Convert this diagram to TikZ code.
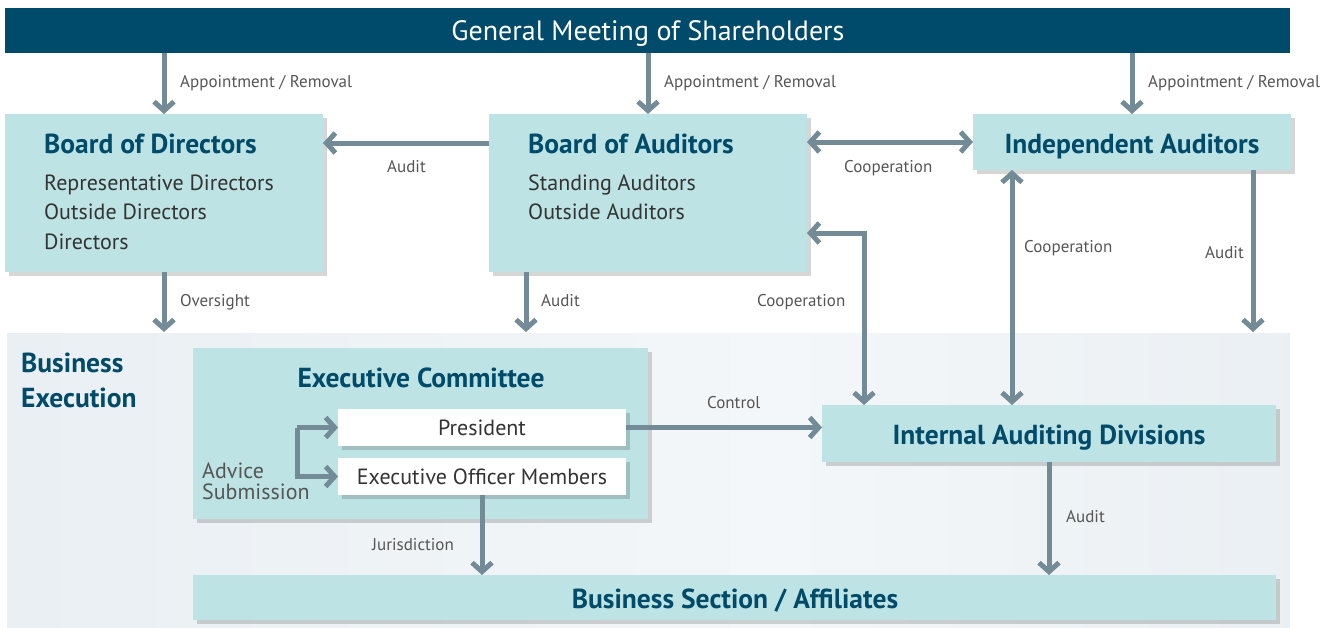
\documentclass[tikz,border=0pt]{standalone}
\usepackage{fontspec}
\setmainfont{PT Sans}
\usetikzlibrary{arrows.meta,shadows,calc}
\definecolor{dark}{HTML}{004B6B}
\definecolor{boxc}{HTML}{BEE3E4}
\definecolor{arrc}{HTML}{738B97}
\definecolor{ttl}{HTML}{004A6A}
\definecolor{bodyc}{HTML}{333333}
\definecolor{lblc}{HTML}{555555}
\definecolor{bgl}{HTML}{E0E8EE}
\definecolor{bgm}{HTML}{F4F7F9}
\definecolor{bgr}{HTML}{DEE6EC}
\pgfdeclarehorizontalshading{bgshade}{100bp}{color(0bp)=(bgl); color(14bp)=(bgl); color(16bp)=(bgl!70!bgm); color(55bp)=(bgm); color(100bp)=(bgr)}
\begin{document}
\begin{tikzpicture}[x=1pt,y=-1pt,
  box/.style={fill=boxc, draw=none, inner sep=0pt, outer sep=0pt, anchor=north west,
    drop shadow={shadow xshift=4pt, shadow yshift=-4pt, fill=black, opacity=0.16}},
  wbox/.style={box, fill=white},
  ttlf/.style={inner sep=0pt, text=ttl, font=\fontsize{27.5}{31}\selectfont\bfseries},
  bodyf/.style={inner sep=0pt, text=bodyc, font=\fontsize{22}{26}\selectfont, anchor=base west},
  lbl/.style={inner sep=0pt, text=lblc, font=\fontsize{17}{20}\selectfont, anchor=base west},
  arr/.style={draw=arrc, line width=5pt, -{Straight Barb[length=9pt,width=20pt,line width=5pt]}},
  darr/.style={draw=arrc, line width=5pt, {Straight Barb[length=9pt,width=20pt,line width=5pt]}-{Straight Barb[length=9pt,width=20pt,line width=5pt]}},
  line/.style={draw=arrc, line width=5pt}
]
\useasboundingbox (0,0) rectangle (1333,627);
% background of business execution
\node[shading=bgshade, draw=none, inner sep=0pt, outer sep=0pt, anchor=north west,
  minimum width=1283pt, minimum height=294pt] (bg) at (7,333) {};
% top bar
\node[fill=dark, inner sep=0pt, outer sep=0pt, anchor=north west, minimum width=1285pt, minimum height=45pt] (gm) at (5,8) {};
\node[inner sep=0pt, text=white, font=\fontsize{28}{32}\selectfont, anchor=base] (gmt) at (648,40) {General Meeting of Shareholders};
% boxes
\node[box, minimum width=318pt, minimum height=158pt] (bod) at (5,114) {};
\node[box, minimum width=318pt, minimum height=158pt] (boa) at (489,114) {};
\node[box, minimum width=318pt, minimum height=56pt] (ia) at (973,114) {};
\node[box, minimum width=455pt, minimum height=171pt] (ec) at (193,348) {};
\node[wbox, minimum width=288pt, minimum height=37pt] (pres) at (338,409) {};
\node[wbox, minimum width=288pt, minimum height=37pt] (eom) at (338,458) {};
\node[box, minimum width=454pt, minimum height=57pt] (iad) at (822,405) {};
\node[box, minimum width=1083pt, minimum height=45pt] (bsa) at (193,575) {};
% texts
\node[ttlf, anchor=base west] (bodt) at (44,153) {Board of Directors};
\node[bodyf] (bod1) at (44,190) {Representative Directors};
\node[bodyf] (bod2) at (44,219) {Outside Directors};
\node[bodyf] (bod3) at (44,249) {Directors};
\node[ttlf, anchor=base west] (boat) at (528,153) {Board of Auditors};
\node[bodyf] (boa1) at (528,190) {Standing Auditors};
\node[bodyf] (boa2) at (528,219) {Outside Auditors};
\node[ttlf, anchor=base] (iat) at (1132,153) {Independent Auditors};
\node[ttlf, anchor=base west] (be1) at (21,372) {Business};
\node[ttlf, anchor=base west] (be2) at (21,407) {Execution};
\node[ttlf, anchor=base] (ect) at (421,387) {Executive Committee};
\node[bodyf, anchor=base] (prest) at (482,435) {President};
\node[bodyf, anchor=base] (eomt) at (482,484) {Executive Officer Members};
\node[ttlf, anchor=base] (iadt) at (1049,444) {Internal Auditing Divisions};
\node[ttlf, anchor=base] (bsat) at (735,608) {Business Section / Affiliates};
\node[bodyf, text=lblc] (adv1) at (202,478) {Advice};
\node[bodyf, text=lblc] (adv2) at (202,499) {Submission};
% labels
\node[lbl] (l1) at (180,87) {Appointment / Removal};
\node[lbl] (l2) at (664,87) {Appointment / Removal};
\node[lbl] (l3) at (1148,87) {Appointment / Removal};
\node[lbl] (l4) at (387,172) {Audit};
\node[lbl] (l5) at (844,172) {Cooperation};
\node[lbl] (l6) at (1024,252) {Cooperation};
\node[lbl] (l7) at (1205,258) {Audit};
\node[lbl] (l8) at (757,306) {Cooperation};
\node[lbl] (l9) at (180,306) {Oversight};
\node[lbl] (l10) at (541,306) {Audit};
\node[lbl] (l11) at (707,408) {Control};
\node[lbl] (l12) at (1066,522) {Audit};
\node[lbl] (l13) at (372,550) {Jurisdiction};
% connectors
\draw[arr] (gm.south -| bod.north) -- (bod.north);
\draw[arr] (gm.south -| boa.north) -- (boa.north);
\draw[arr] (gm.south -| ia.north) -- (ia.north);
\draw[arr] ([yshift=-29pt]boa.north west) -- ([yshift=-29pt]bod.north east);
\draw[darr] (ia.west -| boa.east) -- (ia.west);
\draw[darr] ([xshift=39pt]ia.south west) -- ([xshift=39pt]ia.south west |- iad.north);
\draw[arr] ([xshift=-38pt]ia.south east) -- ([xshift=-38pt,yshift=1pt]ia.south east |- bg.north);
\draw[darr] ([yshift=39pt]boa.south east) -| ([xshift=42pt]iad.north west);
\draw[arr] (bod.south) -- ([yshift=1pt]bod.south |- bg.north);
\draw[arr] ([xshift=37pt]boa.south west) -- ([xshift=37pt,yshift=1pt]boa.south west |- bg.north);
\draw[arr] (pres.east) -- (pres.east -| iad.west);
\draw[arr] ([xshift=-41pt]pres.west) -- (pres.west);
\draw[arr] ([xshift=-41pt]pres.west) |- (eom.west);
\draw[arr] (eom.south) -- (eom.south |- bsa.north);
\draw[arr] (iad.south) -- (iad.south |- bsa.north);
\end{tikzpicture}
\end{document}
